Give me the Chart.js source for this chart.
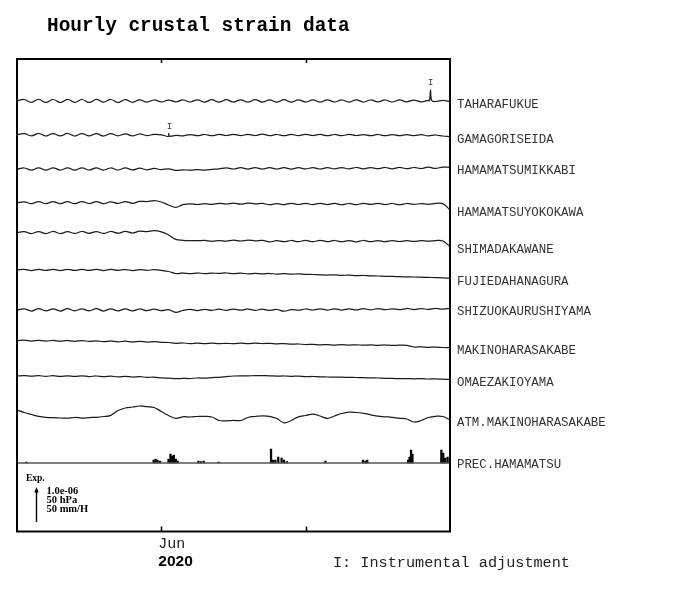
<!DOCTYPE html>
<html><head><meta charset="utf-8">
<script src="https://cdn.jsdelivr.net/npm/chart.js@4/dist/chart.umd.min.js"></script>
<style>html,body{margin:0;padding:0;background:#fff}#wrap{position:relative;width:700px;height:590px}</style>
</head><body><div id="wrap"><canvas id="c"></canvas></div>
<script>
// ---- time axis: days since 2020-05-02, one sample every 1.5 days ----
const sampleDays = Array.from({length: 61}, (_, i) => i * 1.5);
const tickDays = [30, 60];          // Jun 1, Jul 1
const tickLabel = 'Jun';
const yearLabel = '2020';

const stations = ['TAHARAFUKUE','GAMAGORISEIDA','HAMAMATSUMIKKABI','HAMAMATSUYOKOKAWA','SHIMADAKAWANE',
  'FUJIEDAHANAGURA','SHIZUOKAURUSHIYAMA','MAKINOHARASAKABE','OMAEZAKIOYAMA','ATM.MAKINOHARASAKABE','PREC.HAMAMATSU'];

// readings (relative, upward positive; 35 units = 1.0e-06 strain = 50 hPa = 50 mm/H)
const taharafukue = [0.2,1.5,-1.3,1.6,-1.4,1.5,-1.5,1.7,-1.3,1.5,
  -1.4,1.6,-1.2,1.5,-1.5,1.4,-1.3,1.2,-1.1,1.0,
  -0.9,0.9,-0.8,1.0,-1.0,1.2,-1.1,1.3,-1.2,1.3,
  -1.0,1.2,-1.2,1.3,-1.1,1.2,-1.2,1.3,-1.2,1.2,
  -1.0,1.1,-1.2,1.2,-1.0,1.0,-1.1,1.2,-1.0,1.0,
  -0.8,1.0,-1.0,1.1,-0.8,0.9,-0.8,0.6,-0.5,0.6,-0.6];
const taharaSpikeDays = [85.75, 85.95, 86.2];
const taharaSpikeVals = [0.3, 11.0, 0.4];

const gamagoriseida = [0.5,1.4,-0.8,1.5,-1.0,1.4,-0.9,1.5,-1.0,1.4,
  -0.9,1.3,-1.0,1.4,-0.8,1.2,-0.9,1.0,-0.6,0.6,
  0.2,-1.5,-0.3,-0.8,0.4,-0.6,0.5,-0.7,0.6,-0.5,
  0.7,-0.6,0.6,-0.5,0.8,-0.6,0.5,-0.7,0.6,-0.6,
  0.7,-0.5,0.6,-0.7,0.5,-0.6,0.6,-0.5,0.4,-0.6,
  0.5,-0.7,0.4,-0.6,0.5,-0.6,0.3,-0.8,0.0,-1.0,-1.6];
const gamagoriStepDays = [31.5, 31.75];
const gamagoriStepVals = [1.5, -1.2];

const hamamatsuMikkabi = [-0.3,1.0,-1.2,1.1,-1.1,1.2,-1.0,1.1,-1.2,1.1,
  -1.0,1.2,-1.1,1.0,-1.0,1.1,-0.9,0.8,-0.8,0.6,
  -0.6,0.2,-1.3,-0.8,-1.2,-0.7,-1.1,-0.4,0.2,1.2,
  0.0,1.3,-0.2,1.4,-0.1,1.3,0.0,1.4,-0.1,1.3,
  0.1,1.4,0.0,1.3,0.2,1.4,0.1,1.5,0.2,1.4,
  0.3,1.5,0.2,1.6,0.4,1.5,0.5,1.8,0.6,1.9,1.6];

const hamamatsuYokokawa = [1.2,2.2,0.4,2.3,0.3,2.4,0.4,2.3,0.3,2.4,
  0.5,2.3,0.4,2.2,0.6,2.4,0.7,2.6,2.4,3.3,
  2.0,-1.0,-3.3,-0.6,0.2,-0.5,0.3,-0.4,0.6,0.0,
  0.8,-0.2,0.9,0.1,0.6,-0.6,0.5,-0.6,0.7,-0.5,
  0.6,-0.6,0.7,-0.5,0.6,-0.7,0.5,-0.6,0.6,-0.4,
  0.7,-0.5,0.5,-0.6,0.5,-0.4,0.4,-0.3,0.6,0.4,-6.0];

const shimadaKawane = [8.3,9.3,7.5,9.4,7.4,9.5,7.5,9.4,7.6,9.5,
  7.7,9.4,7.6,9.5,7.8,9.6,8.0,9.8,9.4,10.3,
  9.2,6.0,1.6,0.7,0.4,0.3,0.6,-0.3,0.4,-0.2,
  0.8,0.0,0.9,0.2,0.6,-0.8,0.3,-0.7,0.5,-0.6,
  0.6,-0.7,0.7,-0.6,0.5,-0.7,0.4,-0.8,0.5,-0.6,
  0.5,-0.6,0.4,-0.5,0.3,-0.4,0.3,-0.2,0.4,0.0,-5.7];

const fujiedaHanagura = [0.0,0.6,-0.5,0.7,-0.4,0.6,-0.5,0.6,-0.4,0.7,
  -0.4,0.6,-0.5,0.6,-0.4,0.5,-0.5,0.4,-0.3,0.3,
  -0.4,-1.5,-3.5,-3.0,-3.6,-3.0,-3.5,-3.1,-3.4,-3.0,
  -3.6,-3.2,-3.8,-3.3,-3.9,-3.5,-4.0,-3.6,-4.2,-3.8,
  -4.3,-4.5,-4.8,-5.0,-4.9,-5.3,-5.2,-5.6,-5.5,-5.9,
  -6.0,-6.3,-6.4,-6.7,-6.8,-7.0,-7.2,-7.4,-7.6,-7.8,-8.3];

const shizuokaUrushiyama = [0.0,1.2,-1.0,1.3,-0.9,1.2,-1.0,1.3,-0.8,1.2,
  -0.9,1.3,-1.0,1.2,-0.9,1.1,-0.8,1.0,-0.6,0.8,
  -0.6,0.3,-2.3,-0.4,0.6,-0.5,0.7,-0.3,0.8,-0.3,
  0.9,-0.2,1.0,-0.3,0.8,-0.4,0.5,-1.2,0.3,-0.2,
  1.0,0.0,1.2,-0.1,1.1,0.0,1.2,0.1,1.3,0.2,
  1.3,0.3,1.2,0.4,1.5,0.5,1.4,0.6,1.6,0.8,1.7];

const makinoharaSakabe = [0.3,0.8,0.0,0.7,-0.1,0.6,-0.2,0.5,-0.3,0.4,
  -0.4,0.2,-0.7,0.0,-0.8,-0.2,-0.9,-0.4,-1.0,-0.6,
  -1.3,-1.5,-2.3,-2.0,-2.5,-2.1,-2.6,-2.2,-2.7,-2.3,
  -2.7,-2.2,-2.6,-2.1,-2.5,-2.3,-2.8,-2.6,-3.2,-3.0,
  -3.5,-3.3,-3.8,-3.6,-4.0,-3.7,-4.1,-3.8,-4.2,-3.9,
  -4.3,-4.0,-4.4,-4.1,-4.3,-6.0,-5.8,-6.3,-6.1,-6.5,-6.7];

const omaezakiOyama = [0.0,0.4,-0.2,0.3,-0.3,0.3,-0.4,0.2,-0.4,0.1,
  -0.5,0.0,-0.7,-0.2,-0.8,-0.4,-1.0,-0.7,-1.3,-1.2,
  -1.8,-2.2,-2.7,-2.4,-2.5,-2.0,-2.1,-1.6,-1.3,-0.6,
  0.0,0.2,0.1,0.4,0.3,0.2,-0.1,0.0,-0.3,-0.2,
  -0.6,-0.5,-0.9,-1.0,-1.1,-1.2,-1.4,-1.5,-1.7,-1.9,
  -2.0,-2.3,-2.4,-2.7,-2.6,-2.8,-2.7,-3.0,-2.9,-3.2,-3.3];

const atmMakinoharaSakabe = [7.0,4.5,2.5,0.7,-0.3,-0.7,-1.0,-1.2,-0.5,-1.0,
  -0.6,-0.3,0.5,1.7,6.5,9.0,10.0,11.0,10.3,9.5,
  5.5,1.5,-1.3,0.2,0.0,0.5,0.7,0.0,-3.5,-3.8,
  -3.3,-3.5,-0.5,0.5,1.2,0.7,-1.5,-5.8,-3.5,0.2,
  1.5,2.8,1.0,-1.3,1.0,3.5,4.8,4.5,3.7,2.2,
  0.8,0.2,-0.3,-1.3,-2.0,-5.0,-3.5,-0.5,0.7,0.5,-3.0];

// hourly precipitation events (day, height)
const precDays = [1.9,28.4,28.8,29.2,29.7,31.5,31.9,32.2,32.6,33.0,33.4,37.7,38.2,38.8,41.9,
  52.8,53.2,53.7,54.3,55.0,55.5,56.1,64.1,71.9,72.4,72.8,81.3,81.6,81.9,82.2,88.2,88.6,89.0,89.5];
const precVals = [1,3,4,3,2,4,9,7,8,4,2,2,1.5,2,1,
  14,3,3,6,5,3,1.5,2,3,2,3,3,6,13,9,13,10,5,6];

const adjustSeries = [0, 1];
const adjustDays = [86.0, 31.7];
const scaleBarUnits = 35;
const scaleBarTexts = ['1.0e-06', '50 hPa', '50 mm/H'];

// ---- layout (stacking offsets, plot units from top of frame) ----
const traceOffsets = [42, 76, 110, 145, 182, 211, 251, 282, 317, 358, 404];

const strainSeries = [taharafukue, gamagoriseida, hamamatsuMikkabi, hamamatsuYokokawa, shimadaKawane,
  fujiedaHanagura, shizuokaUrushiyama, makinoharaSakabe, omaezakiOyama, atmMakinoharaSakabe];

function buildPoints(k) {
  const pts = sampleDays.map((d, i) => ({x: d, y: traceOffsets[k] - strainSeries[k][i]}));
  if (k === 0) taharaSpikeDays.forEach((d, j) => pts.push({x: d, y: traceOffsets[k] - taharaSpikeVals[j]}));
  if (k === 1) gamagoriStepDays.forEach((d, j) => pts.push({x: d, y: traceOffsets[k] - gamagoriStepVals[j]}));
  pts.sort((a, b) => a.x - b.x);
  return pts;
}

const datasets = strainSeries.map((s, k) => ({
  type: 'line', label: stations[k], data: buildPoints(k),
  borderColor: '#1c1c1c', borderWidth: 1.25, pointRadius: 0, tension: 0.4, fill: false
}));
datasets.push({
  type: 'line', label: stations[10] + ' base',
  data: [{x: 0, y: traceOffsets[10]}, {x: 90, y: traceOffsets[10]}],
  borderColor: '#555', borderWidth: 1.6, pointRadius: 0, tension: 0
});
datasets.push({
  type: 'bar', label: stations[10],
  data: precDays.map((d, j) => ({x: d, y: [traceOffsets[10], traceOffsets[10] - precVals[j]]})),
  backgroundColor: '#000', borderWidth: 0, barThickness: 1.6
});

const overlay = {
  id: 'overlay',
  afterDraw(chart) {
    const {ctx, chartArea: a, scales: {x, y}} = chart;
    ctx.save();
    // frame
    ctx.strokeStyle = '#000'; ctx.lineWidth = 2;
    ctx.strokeRect(a.left, a.top, a.right - a.left, a.bottom - a.top);
    // ticks
    ctx.lineWidth = 1.5;
    tickDays.forEach(d => {
      const px = Math.round(x.getPixelForValue(d)) + 0.5;
      ctx.beginPath();
      ctx.moveTo(px, a.top); ctx.lineTo(px, a.top + 4);
      ctx.moveTo(px, a.bottom); ctx.lineTo(px, a.bottom - 5);
      ctx.stroke();
    });
    // title
    ctx.fillStyle = '#000';
    ctx.textBaseline = 'alphabetic'; ctx.textAlign = 'left';
    ctx.font = 'bold 19.4px "Liberation Mono"';
    ctx.fillText('Hourly crustal strain data', 47, 31);
    // x labels
    const jx = x.getPixelForValue(tickDays[0]);
    ctx.font = '15px "Liberation Mono"';
    ctx.fillStyle = '#222';
    ctx.fillText(tickLabel, jx - 3, 548);
    ctx.fillStyle = '#000';
    ctx.font = 'bold 15.5px "Liberation Sans"';
    ctx.fillText(yearLabel, jx - 3, 566);
    ctx.fillStyle = '#222';
    ctx.font = '15.2px "Liberation Mono"';
    ctx.fillText('I: Instrumental adjustment', 333, 567);
    // station labels
    ctx.font = '12.4px "Liberation Mono"';
    ctx.fillStyle = '#333';
    ctx.textBaseline = 'middle';
    for (let k = 0; k < 10; k++) {
      const pts = chart.data.datasets[k].data;
      const py = y.getPixelForValue(pts[pts.length - 1].y);
      ctx.fillText(stations[k], a.right + 7, py + 3);
    }
    ctx.fillText(stations[10], a.right + 7, y.getPixelForValue(traceOffsets[10]) + 2);
    // instrumental adjustment markers
    ctx.font = '9px "Liberation Mono"';
    ctx.textAlign = 'center';
    adjustSeries.forEach((k, j) => {
      const pts = chart.data.datasets[k].data;
      let top = Infinity;
      pts.forEach(p => { if (Math.abs(p.x - adjustDays[j]) < 1) top = Math.min(top, p.y); });
      ctx.fillText('I', x.getPixelForValue(adjustDays[j]), y.getPixelForValue(top) - 7);
    });
    // scale legend
    ctx.textAlign = 'left'; ctx.textBaseline = 'alphabetic';
    ctx.fillStyle = '#000';
    ctx.font = 'bold 9.5px "Liberation Serif"';
    ctx.fillText('Exp.', 26, 481);
    const bottomV = y.getValueForPixel(522);
    const y0 = y.getPixelForValue(bottomV), y1 = y.getPixelForValue(bottomV - scaleBarUnits);
    ctx.lineWidth = 1.4;
    ctx.beginPath(); ctx.moveTo(36.5, y0); ctx.lineTo(36.5, y1 + 3); ctx.stroke();
    ctx.beginPath(); ctx.moveTo(36.5, y1); ctx.lineTo(34.3, y1 + 5.5); ctx.lineTo(38.7, y1 + 5.5); ctx.closePath(); ctx.fill();
    ctx.font = 'bold 10.5px "Liberation Serif"';
    scaleBarTexts.forEach((t, j) => ctx.fillText(t, 46.5, 494 + j * 9));
    ctx.restore();
  }
};

new Chart(document.getElementById('c'), {
  type: 'line',
  data: {datasets},
  options: {
    responsive: true, maintainAspectRatio: false, animation: false,
    layout: {padding: {left: 17, top: 59, right: 250, bottom: 58.5}},
    plugins: {legend: {display: false}, tooltip: {enabled: false}, title: {display: false}},
    scales: {
      x: {type: 'linear', min: 0, max: 90, offset: false, display: false},
      y: {type: 'linear', min: 0, max: 472.5, reverse: true, display: false}
    }
  },
  plugins: [overlay]
});
</script></body></html>
